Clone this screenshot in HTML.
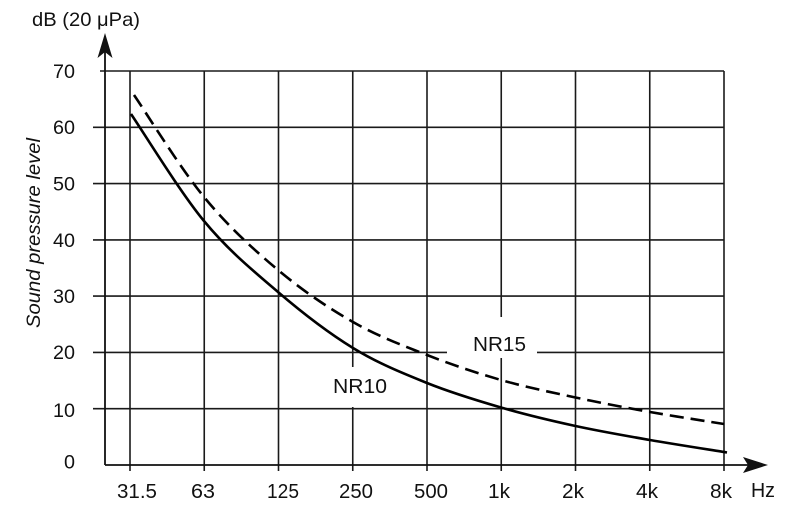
<!DOCTYPE html>
<html>
<head>
<meta charset="utf-8">
<style>
html,body{margin:0;padding:0;background:#fff;}
svg{display:block;}
text{font-family:"Liberation Sans",Arial,sans-serif;fill:#111;}
</style>
</head>
<body>
<svg width="800" height="519" viewBox="0 0 800 519" xmlns="http://www.w3.org/2000/svg">
<rect x="0" y="0" width="800" height="519" fill="#fff"/>
<g stroke="#1a1a1a" stroke-width="1.6" fill="none">
  <line x1="100" y1="71" x2="724" y2="71"/>
  <line x1="93" y1="127.3" x2="724" y2="127.3"/>
  <line x1="93" y1="183.6" x2="724" y2="183.6"/>
  <line x1="93" y1="239.9" x2="724" y2="239.9"/>
  <line x1="93" y1="296.1" x2="724" y2="296.1"/>
  <line x1="93" y1="352.4" x2="724" y2="352.4"/>
  <line x1="93" y1="408.7" x2="724" y2="408.7"/>
  <line x1="130" y1="71" x2="130" y2="471"/>
  <line x1="204.25" y1="71" x2="204.25" y2="471"/>
  <line x1="278.5" y1="71" x2="278.5" y2="471"/>
  <line x1="352.75" y1="71" x2="352.75" y2="471"/>
  <line x1="427" y1="71" x2="427" y2="471"/>
  <line x1="501.25" y1="71" x2="501.25" y2="471"/>
  <line x1="575.5" y1="71" x2="575.5" y2="471"/>
  <line x1="649.75" y1="71" x2="649.75" y2="471"/>
  <line x1="724" y1="71" x2="724" y2="471"/>
</g>
<rect x="447" y="317" width="90" height="41" fill="#fff"/>
<rect x="326" y="367" width="66" height="40" fill="#fff"/>
<g stroke="#111" stroke-width="1.8" fill="none">
  <line x1="105" y1="465" x2="105" y2="50"/>
  <line x1="105" y1="465" x2="750" y2="465"/>
</g>
<path d="M105,33 L112.5,58 L105,52 L97.5,58 Z" fill="#111"/>
<path d="M768,465 L743,457 L748,465 L743,473 Z" fill="#111"/>
<path d="M131,114 C143.2,131.8 179.5,191.3 204,221 C228.5,250.7 253.2,270.8 278,292 C302.8,313.2 328.2,332.8 353,348 C377.8,363.2 402.3,373.1 427,383 C451.7,392.9 476.3,400.3 501,407.5 C525.8,414.7 550.7,420.6 575.5,426 C600.3,431.4 624.8,435.6 650,440 C675.3,444.4 714.2,450.4 727,452.5" stroke="#000" stroke-width="2.6" fill="none"/>
<path d="M134,95 C145.7,112 180,167.8 204,197 C228,226.2 253.2,249.2 278,270 C302.8,290.8 328.2,307.8 353,322 C377.8,336.2 402.3,345.3 427,355 C451.7,364.7 476.3,372.9 501,380 C525.8,387.1 550.7,392.2 575.5,397.5 C600.3,402.8 625.3,407.6 650,412 C674.8,416.4 711.7,422 724,424" stroke="#000" stroke-width="2.6" fill="none" stroke-dasharray="14 7"/>
<g font-size="19.5" text-anchor="end">
  <text x="75" y="78" textLength="22" lengthAdjust="spacingAndGlyphs">70</text>
  <text x="75" y="134" textLength="22" lengthAdjust="spacingAndGlyphs">60</text>
  <text x="75" y="190.5" textLength="22" lengthAdjust="spacingAndGlyphs">50</text>
  <text x="75" y="247" textLength="22" lengthAdjust="spacingAndGlyphs">40</text>
  <text x="75" y="303" textLength="22" lengthAdjust="spacingAndGlyphs">30</text>
  <text x="75" y="359" textLength="22" lengthAdjust="spacingAndGlyphs">20</text>
  <text x="75" y="417" textLength="22" lengthAdjust="spacingAndGlyphs">10</text>
  <text x="75" y="468.5" textLength="11" lengthAdjust="spacingAndGlyphs">0</text>
</g>
<g font-size="20" text-anchor="middle">
  <text x="137" y="498" textLength="40" lengthAdjust="spacingAndGlyphs">31.5</text>
  <text x="203" y="498" textLength="24" lengthAdjust="spacingAndGlyphs">63</text>
  <text x="283" y="498" textLength="32" lengthAdjust="spacingAndGlyphs">125</text>
  <text x="356" y="498" textLength="34" lengthAdjust="spacingAndGlyphs">250</text>
  <text x="431" y="498" textLength="34" lengthAdjust="spacingAndGlyphs">500</text>
  <text x="499" y="498" textLength="22" lengthAdjust="spacingAndGlyphs">1k</text>
  <text x="573" y="498" textLength="22" lengthAdjust="spacingAndGlyphs">2k</text>
  <text x="647" y="498" textLength="22" lengthAdjust="spacingAndGlyphs">4k</text>
  <text x="721" y="498" textLength="22" lengthAdjust="spacingAndGlyphs">8k</text>
</g>
<text x="751" y="497" font-size="20" textLength="24" lengthAdjust="spacingAndGlyphs">Hz</text>
<text x="473" y="351" font-size="20" textLength="53" lengthAdjust="spacingAndGlyphs">NR15</text>
<text x="333" y="393" font-size="20" textLength="54" lengthAdjust="spacingAndGlyphs">NR10</text>
<text x="32" y="26" font-size="19.5" textLength="108" lengthAdjust="spacingAndGlyphs">dB (20 μPa)</text>
<text transform="translate(40,233) rotate(-90)" font-size="19.5" font-style="italic" text-anchor="middle" textLength="190" lengthAdjust="spacingAndGlyphs">Sound pressure level</text>
</svg>
</body>
</html>
